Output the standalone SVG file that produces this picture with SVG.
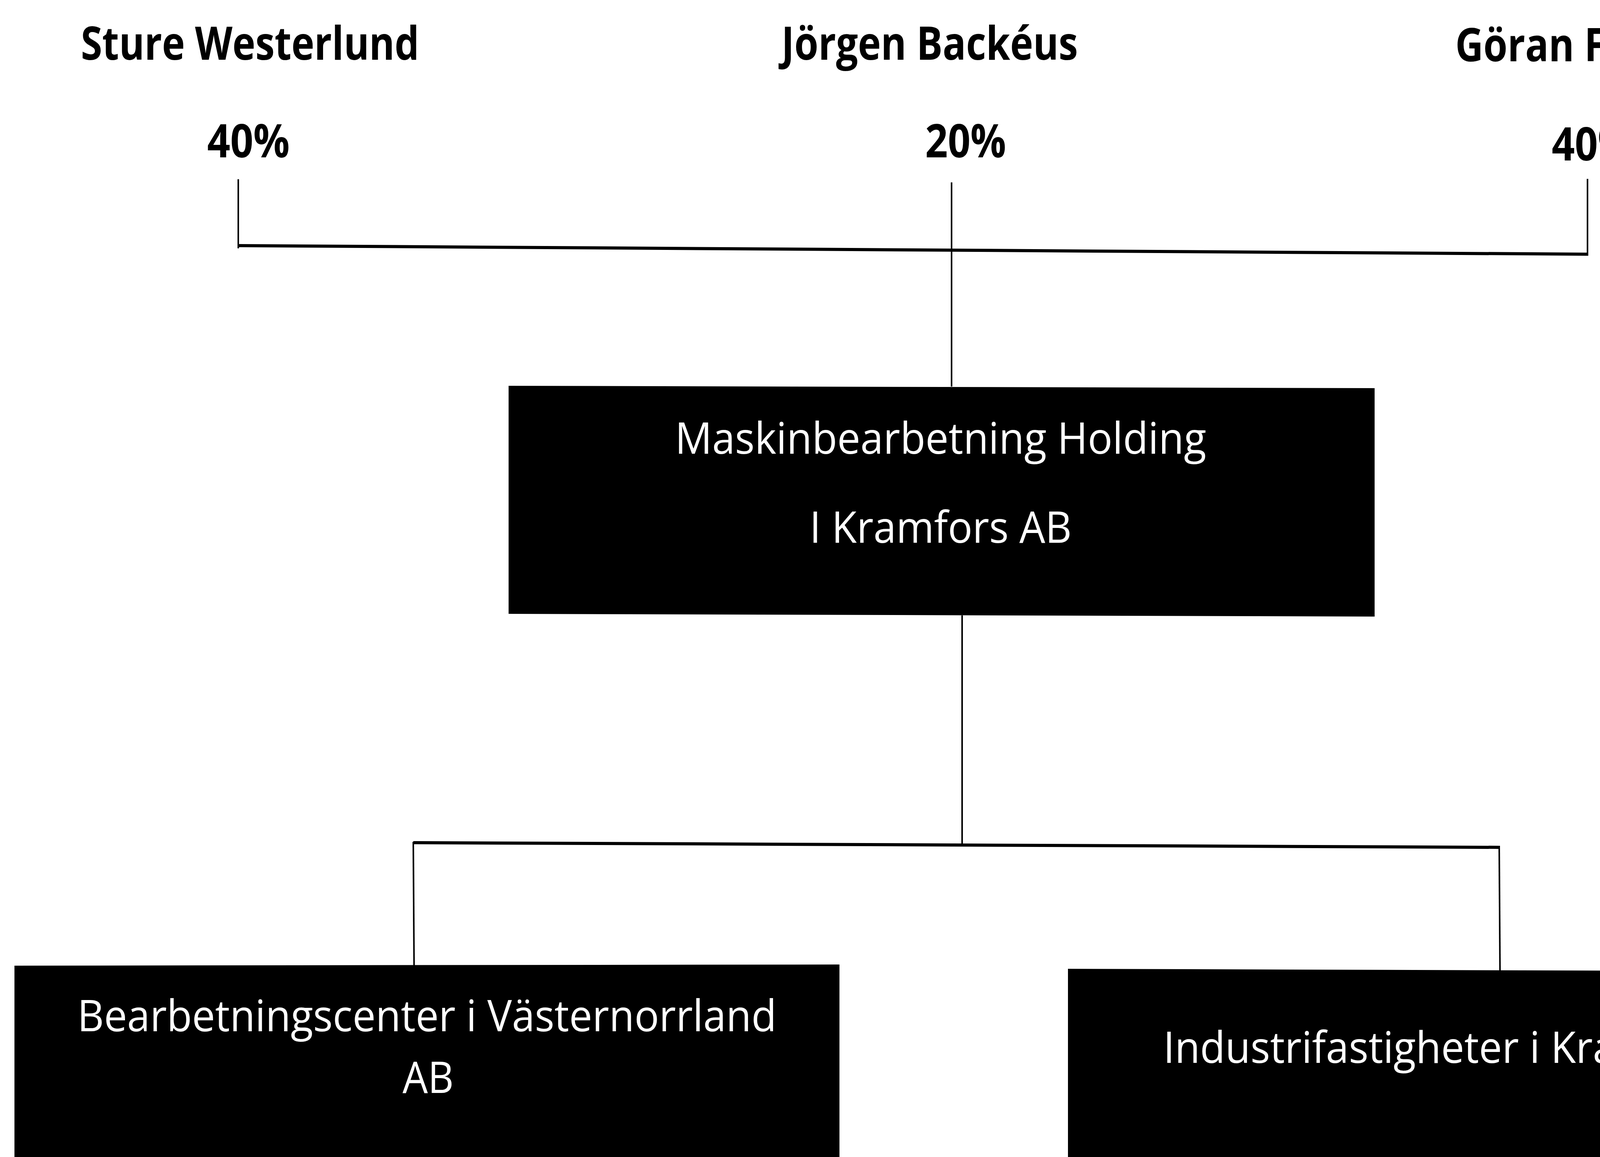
<svg xmlns="http://www.w3.org/2000/svg" width="4780" height="2963" viewBox="0 0 4780 2963">
<style>
.name{font-family:"Open Sans","Liberation Sans",sans-serif;font-weight:bold;font-size:118px;fill:#000;text-anchor:middle}
.lbl{font-family:"Open Sans","Liberation Sans",sans-serif;font-size:112px;fill:#fff;text-anchor:middle}
.box{fill:#000}
.thin{stroke:#000;stroke-width:4;fill:none}
.thick{stroke:#000;stroke-width:8;fill:none}
</style>
<rect width="4780" height="2963" fill="#fff"/>
<g id="owners">
<g id="sture"><text class="name" x="640" y="153" textLength="866" lengthAdjust="spacingAndGlyphs">Sture Westerlund</text><text class="name" x="636" y="403" textLength="211" lengthAdjust="spacingAndGlyphs">40%</text></g>
<g id="jorgen"><text class="name" x="2380" y="153" textLength="759" lengthAdjust="spacingAndGlyphs">Jörgen Backéus</text><text class="name" x="2472" y="403" textLength="207" lengthAdjust="spacingAndGlyphs">20%</text></g>
<g id="goran"><text class="name" x="4058" y="157" textLength="665" lengthAdjust="spacingAndGlyphs">Göran Fahlén</text><text class="name" x="4078" y="411" textLength="211" lengthAdjust="spacingAndGlyphs">40%</text></g>
</g>
<g id="connectors">
<line class="thin" x1="610" y1="459" x2="610" y2="636"/>
<line class="thin" x1="2436" y1="467" x2="2436" y2="990"/>
<line class="thin" x1="4064" y1="458" x2="4064" y2="654"/>
<line class="thick" x1="610" y1="629" x2="4066" y2="651"/>
<line class="thin" x1="2463" y1="1576" x2="2463" y2="2168"/>
<line class="thick" x1="1058" y1="2158" x2="3840" y2="2170"/>
<line class="thin" x1="1058" y1="2156" x2="1060" y2="2473"/>
<line class="thin" x1="3838" y1="2168" x2="3840" y2="2486"/>
</g>
<g id="holding">
<polygon class="box" points="1302,988 3519,994 3519,1579 1302,1572"/>
<text class="lbl" x="2408" y="1162" textLength="1360" lengthAdjust="spacingAndGlyphs">Maskinbearbetning Holding</text>
<text class="lbl" x="2408" y="1390" textLength="671" lengthAdjust="spacingAndGlyphs">I Kramfors AB</text>
</g>
<g id="bearbetningscenter">
<polygon class="box" points="37,2473 2149,2470 2149,2963 37,2963"/>
<text class="lbl" x="1093" y="2641" textLength="1790" lengthAdjust="spacingAndGlyphs">Bearbetningscenter i Västernorrland</text>
<text class="lbl" x="1096" y="2799" textLength="131" lengthAdjust="spacingAndGlyphs">AB</text>
</g>
<g id="industrifastigheter">
<polygon class="box" points="2734,2481 4780,2488 4780,2963 2734,2963"/>
<text class="lbl" x="3783" y="2722" textLength="1610" lengthAdjust="spacingAndGlyphs">Industrifastigheter i Kramfors AB</text>
</g>
</svg>
